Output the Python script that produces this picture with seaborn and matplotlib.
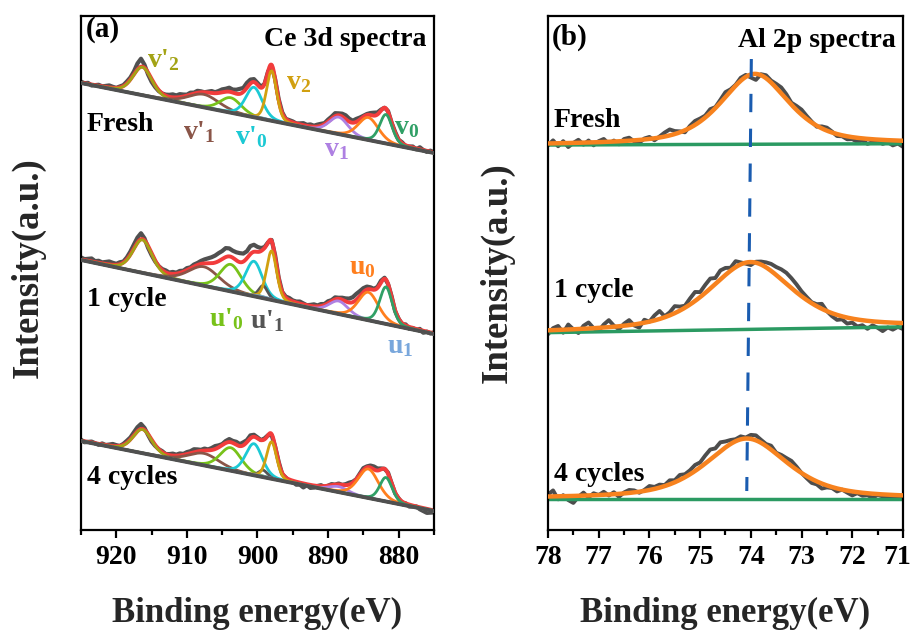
import numpy as np
import matplotlib
matplotlib.use("Agg")
import matplotlib.pyplot as plt
import matplotlib.transforms as mtransforms
import seaborn as sns
from matplotlib.ticker import MultipleLocator

# ---------------------------------------------------------------- data
samples = ["Fresh", "1 cycle", "4 cycles"]

# Ce 3d fitted components: centre (eV), FWHM (eV), colour
ce_labels = ["v'2", "v'1", "u'0", "v'0", "u'1", "v2", "v1", "u0", "v0", "u1"]
ce_centers = [916.3, 907.6, 903.8, 900.5, 899.2, 898.0, 888.5, 884.3, 881.8, 899.5]
ce_fwhm = [3.2, 5.2, 3.6, 2.8, 1.5, 1.7, 3.2, 3.4, 2.1, 3.2]
ce_colors = ["#a3a315", "#8a5548", "#78c21a", "#1cc9d4", "#555555",
             "#d1a010", "#ae80e2", "#ff7f1e", "#30a066", "#79a7dc"]
ce_heights = {
    "Fresh":    [28.0, 13.0, 15.0, 30.0, 0.0, 50.0, 17.0, 22.5, 29.0, 1.0],
    "1 cycle":  [33.0, 19.0, 27.0, 35.0, 12.5, 49.0, 13.0, 28.0, 37.0, 1.5],
    "4 cycles": [23.7, 12.0, 23.0, 31.6, 7.0, 37.0, 5.5, 29.0, 24.0, 1.0],
}
# linear background at 925 eV and 875 eV
ce_base_left = [447.0, 270.0, 89.0]
ce_base_right = [377.0, 196.0, 19.0]
# measured counts minus fit, every 0.5 eV from 925 to 875 eV
ce_resid = {
    "Fresh": [1, 0, 1, -1, 0, 1, 0, 1, 2, 1, 0,
              1, 1, 2, 2, 3, 6, 8, 3, -2, -3,
              -2, -1, 0, 1, 2, 3, 2, 3, 2, 1,
              2, 1, 2, 1, 0, 1, 2, 1, 2, 3,
              3, 4, 3, 4, 5, 4, 5, 4, 3, 2,
              1, 0, 0, -1, 0, 1, 1, 0, 1, 1,
              0, 1, 2, 1, 2, 1, 2, 2, 1, 2,
              2, 3, 2, 3, 4, 3, 2, 3, 2, 1,
              1, 2, 3, 2, 1, 0, 1, 0, 1, 0,
              1, -1, 0, 1, -1, 2, 0, -1, 1, 0],
    "1 cycle": [2, 1, 2, 3, 1, 2, 1, 2, 3, 2, 1,
                2, 1, 2, 3, 4, 5, 6, 2, -2, -2,
                -1, 0, 1, 2, 1, 2, 1, 2, 1, 2,
                1, 2, 2, 3, 4, 5, 6, 7, 8, 8,
                9, 8, 7, 8, 9, 8, 7, 8, 7, 5,
                3, 1, 0, 1, 2, 1, 0, 1, 2, 1,
                1, 2, 1, 0, 1, 2, 1, 2, 1, 2,
                1, 2, 1, 2, 3, 4, 5, 6, 5, 4,
                3, 2, 1, 1, 2, 1, 0, 1, -1, 0,
                -1, 1, -2, 0, -1, 1, -2, 0, -1, 1],
    "4 cycles": [1, -1, 0, 1, 0, -1, 1, 0, 1, 2, 1,
                 0, 1, 2, 2, 3, 4, 5, 2, -1, -2,
                 -1, 0, 1, 0, 1, 2, 1, 2, 1, 2,
                 2, 3, 2, 1, 2, 1, 2, 3, 2, 1,
                 2, 3, 2, 3, 2, 3, 2, 3, 2, 1,
                 0, 1, 0, -1, 0, 1, -1, 0, -2, -1,
                 -3, -2, -4, -1, -3, -2, 0, 1, -1, 0,
                 1, 0, 1, 0, 1, 2, 1, 0, 1, 2,
                 1, 2, 3, 2, 1, 0, 1, 0, -1, 0,
                 -1, 0, -2, -1, 0, -2, -3, -4, -3, -2],
}

# Al 2p single-peak fits
al_centers = [73.92, 74.01, 74.08]
al_heights = [70.4, 67.3, 60.0]
al_fwhm = [1.6, 1.95, 1.9]
al_base_left = [385.0, 197.4, 31.5]
al_base_right = [386.3, 203.1, 31.5]
# measured counts minus fit, every 0.1 eV from 78 to 71 eV
al_resid = {
    "Fresh": [-2, 3, -3, 2, -4, 0, 3, -2, 2, -3, 1,
              3, -2, 1, -3, 2, 3, -1, -3, 1, 2,
              -2, 1, 4, 6, 3, 1, -2, 2, 4, 3,
              2, 4, 1, 3, 5, 2, 1, 3, 2, -3,
              -6, 1, 3, 2, 4, 6, 5, 2, 4, 5,
              3, 1, -1, 2, 3, 1, -2, -1, -3, -2,
              -4, -2, -5, -3, -1, -4, -2, -5, -3, -6],
    "1 cycle": [-4, 2, 4, -3, 5, 0, -4, 3, 6, 0, -3,
                3, 7, 1, -3, 2, 5, -1, -4, 3, 0,
                5, 8, 1, 3, 7, 4, 2, 6, 9, 5,
                8, 10, 6, 9, 7, 3, 6, 2, -1, -3,
                1, 3, 5, 7, 8, 10, 11, 10, 8, 5,
                3, 1, 2, 5, 0, -3, -5, -3, -6, -4,
                -7, -5, -8, -4, -6, -9, -5, -7, -4, -6],
    "4 cycles": [2, 6, -3, 1, -4, -7, -1, 3, -2, 2, 0,
                 3, -1, 2, -3, 1, 3, 2, -1, 1, 4,
                 2, 3, 1, 4, 2, 5, 3, 4, 6, 5,
                 8, 10, 7, 9, 6, 4, 2, 3, 1, 4,
                 5, 3, 2, 4, 1, 3, 4, 5, 3, 0,
                 -2, -4, -3, -5, -2, -1, -3, 0, -2, -4,
                 -1, -3, -2, -4, -1, -2, -3, -1, -2, -3],
}
al_ref_energy = [73.99, 74.08]
al_ref_level = [471.0, 39.0]

ce_ticks = [920, 910, 900, 890, 880]
al_ticks = [78, 77, 76, 75, 74, 73, 72, 71]

# ---------------------------------------------------------------- style
sns.set_theme(style="white")
plt.rcParams.update({
    "font.family": ["Liberation Serif", "DejaVu Serif"],
    "font.weight": "bold",
    "mathtext.fontset": "custom",
    "mathtext.rm": "Liberation Serif:bold",
    "mathtext.bf": "Liberation Serif:bold",
    "mathtext.it": "Liberation Serif:bold",
    "mathtext.default": "bf",
    "axes.edgecolor": "black",
    "axes.linewidth": 1.6,
    "xtick.color": "black",
    "text.color": "black",
})


def pseudo_voigt(x, centre, height, fwhm, eta):
    sigma = fwhm / (2.0 * np.sqrt(2.0 * np.log(2.0)))
    gauss = np.exp(-(x - centre) ** 2 / (2.0 * sigma ** 2))
    lorentz = 1.0 / (1.0 + ((x - centre) / (fwhm / 2.0)) ** 2)
    return height * (eta * lorentz + (1.0 - eta) * gauss)


def linear_bg(x, x_hi, x_lo, y_hi, y_lo):
    # straight background from (x_hi, y_hi) to (x_lo, y_lo)
    return np.interp(x, [x_lo, x_hi], [y_lo, y_hi])


def draw(ax, x, y, color, lw, z, **kw):
    sns.lineplot(x=x, y=y, ax=ax, color=color, linewidth=lw,
                 sort=False, estimator=None, zorder=z, **kw)


fig = plt.figure(figsize=(9.13, 6.33), dpi=100)
ax_ce = fig.add_axes([0.0887, 0.1627, 0.3866, 0.8120])
ax_al = fig.add_axes([0.6002, 0.1627, 0.3888, 0.8120])

# ---------------------------------------------------------------- Ce 3d
ce_grid = np.linspace(925, 875, 1001)
ce_raw_e = np.linspace(925, 875, 101)
ce_eta = 0.3
for k, name in enumerate(samples):
    bg = linear_bg(ce_grid, 925, 875, ce_base_left[k], ce_base_right[k])
    bg_raw = linear_bg(ce_raw_e, 925, 875, ce_base_left[k], ce_base_right[k])
    comps = [pseudo_voigt(ce_grid, c, h, w, ce_eta)
             for c, h, w in zip(ce_centers, ce_heights[name], ce_fwhm)]
    comps_raw = [pseudo_voigt(ce_raw_e, c, h, w, ce_eta)
                 for c, h, w in zip(ce_centers, ce_heights[name], ce_fwhm)]
    envelope = bg + np.sum(comps, axis=0)
    raw = bg_raw + np.sum(comps_raw, axis=0) + np.array(ce_resid[name])

    draw(ax_ce, ce_raw_e, raw, "#505050", 3.0, 1)
    draw(ax_ce, ce_grid, envelope, "#f23c3c", 2.8, 2)
    for comp, col, h in zip(comps, ce_colors, ce_heights[name]):
        if h > 0:
            draw(ax_ce, ce_grid, bg + comp, col, 2.0, 3)
    draw(ax_ce, ce_grid, bg, "#505050", 2.8, 4)

ax_ce.set_xlim(925, 875)
ax_ce.set_ylim(0, 514)
ax_ce.xaxis.set_minor_locator(MultipleLocator(5))
ax_ce.set_xticks(ce_ticks)
ax_ce.set_xticklabels([str(t) for t in ce_ticks])

ce_text = [
    ("v'$_2$", 915.7, 463, ce_colors[0]),
    ("v$_2$", 895.9, 441, ce_colors[5]),
    ("v'$_1$", 910.6, 391, ce_colors[1]),
    ("v'$_0$", 903.2, 386, ce_colors[3]),
    ("v$_1$", 890.6, 374, ce_colors[6]),
    ("v$_0$", 880.7, 396, ce_colors[8]),
    ("u$_0$", 887.0, 256, ce_colors[7]),
    ("u'$_0$", 906.8, 204, ce_colors[2]),
    ("u'$_1$", 901.1, 202, ce_colors[4]),
    ("u$_1$", 881.6, 177, ce_colors[9]),
]
for s, x, y, col in ce_text:
    ax_ce.text(x, y, s, color=col, fontsize=20, fontweight="bold",
               ha="left", va="baseline", zorder=6)

for name, y in zip(samples, [399, 224, 46]):
    ax_ce.text(924.2, y, name, fontsize=20, fontweight="bold",
               ha="left", va="baseline", zorder=6)
ax_ce.text(924.3, 493, "(a)", fontsize=21, fontweight="bold",
           ha="left", va="baseline")
ax_ce.text(876.1, 484, "Ce 3d spectra", fontsize=20, fontweight="bold",
           ha="right", va="baseline")

# ---------------------------------------------------------------- Al 2p
al_grid = np.linspace(78, 71, 701)
al_raw_e = np.linspace(78, 71, 71)
al_eta = 0.6
for k, name in enumerate(samples):
    bg = linear_bg(al_grid, 78, 71, al_base_left[k], al_base_right[k])
    bg_raw = linear_bg(al_raw_e, 78, 71, al_base_left[k], al_base_right[k])
    fit = bg + pseudo_voigt(al_grid, al_centers[k], al_heights[k], al_fwhm[k], al_eta)
    raw = (bg_raw + pseudo_voigt(al_raw_e, al_centers[k], al_heights[k],
                                 al_fwhm[k], al_eta) + np.array(al_resid[name]))
    draw(ax_al, al_raw_e, raw, "#4d4d4d", 2.8, 1)
    draw(ax_al, al_grid, bg, "#2b9a62", 2.5, 2)
    draw(ax_al, al_grid, fit, "#f7821e", 3.2, 3)

draw(ax_al, al_ref_energy, al_ref_level, "#1a5cb0", 2.2, 5,
     linestyle=(0, (6, 5.4)))

ax_al.set_xlim(78, 71)
ax_al.set_ylim(0, 514)
ax_al.xaxis.set_minor_locator(MultipleLocator(0.5))
ax_al.set_xticks(al_ticks)
ax_al.set_xticklabels([str(t) for t in al_ticks])

for name, y in zip(samples, [403, 233.5, 48.7]):
    ax_al.text(77.89, y, name, fontsize=20, fontweight="bold",
               ha="left", va="baseline", zorder=6)
ax_al.text(77.93, 485, "(b)", fontsize=21, fontweight="bold",
           ha="left", va="baseline")
ax_al.text(71.14, 483, "Al 2p spectra", fontsize=20, fontweight="bold",
           ha="right", va="baseline")

# ---------------------------------------------------------------- axes
for ax, xcoord, ycoord in [(ax_ce, -0.150, 0.51), (ax_al, -0.144, 0.50)]:
    ax.set_yticks([])
    for sp in ax.spines.values():
        sp.set_visible(True)
        sp.set_color("black")
        sp.set_linewidth(1.6)
    ax.tick_params(axis="x", which="major", bottom=True, direction="out",
                   length=6, width=1.6, labelsize=20, pad=5, colors="black")
    ax.tick_params(axis="x", which="minor", bottom=True, direction="out",
                   length=3.5, width=1.6)
    for lab in ax.get_xticklabels():
        lab.set_fontweight("bold")
    ax.set_xlabel("Binding energy(eV)", fontsize=25, fontweight="bold")
    ax.xaxis.label.set_va("baseline")
    ax.xaxis.set_label_coords(0.5, -0.179)
    ax.set_ylabel("Intensity(a.u.)", fontsize=26.5, fontweight="bold")
    ax.yaxis.label.set_va("center")
    ax.yaxis.set_label_coords(xcoord, ycoord)

# keep the last Al 2p tick label inside the canvas
last = ax_al.get_xticklabels()[-1]
last.set_transform(last.get_transform() +
                   mtransforms.ScaledTranslation(-6 / 100, 0, fig.dpi_scale_trans))

fig.savefig("out.png", dpi=100)
